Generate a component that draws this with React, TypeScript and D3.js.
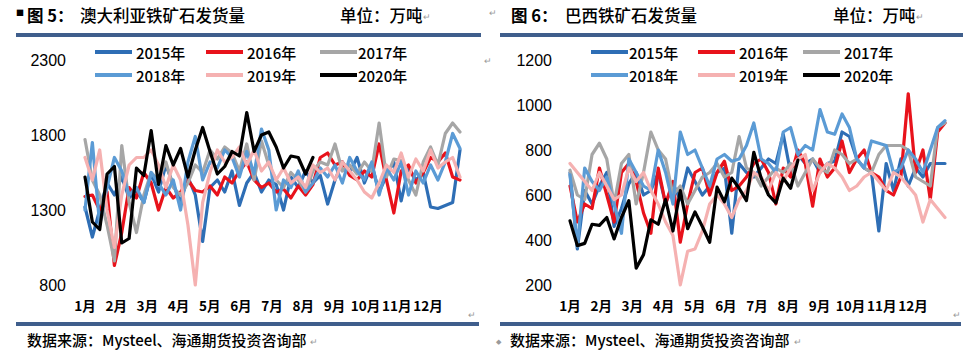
import React from 'react';
import * as d3 from 'd3';

const years = ['2015年', '2016年', '2017年', '2018年', '2019年', '2020年'];
const colors = ['#2E6EB5', '#E8121B', '#A6A6A6', '#5B9BD5', '#F5B1B1', '#000000'];
const monthLabels = ['1月', '2月', '3月', '4月', '5月', '6月', '7月', '8月', '9月', '10月', '11月', '12月'];
const monthWeeks = [0, 4.24, 8.48, 12.72, 16.96, 21.2, 25.44, 29.68, 33.92, 38.16, 42.4, 46.64];

const ausTicks = [800, 1300, 1800, 2300];
const braTicks = [200, 400, 600, 800, 1000, 1200];

// Australia weekly shipments (10k t)
const aus2015 = [1320, 1120, 1300, 1480, 1400, 1520, 1380, 1430, 1350, 1540, 1420, 1600, 1470, 1350, 1520, 1400, 1090, 1450, 1500, 1420, 1560, 1330, 1480, 1550, 1420, 1500, 1470, 1300, 1520, 1450, 1560, 1480, 1530, 1340, 1500, 1620, 1550, 1650, 1480, 1600, 1420, 1530, 1620, 1360, 1580, 1500, 1550, 1320, 1310, 1330, 1350, 1700];
const aus2016 = [1390, 1400, 1300, 1420, 930, 1150, 1450, 1380, 1550, 1480, 1300, 1450, 1380, 1420, 1500, 1430, 1420, 1460, 1400, 1520, 1480, 1560, 1620, 1500, 1450, 1480, 1420, 1440, 1380, 1460, 1400, 1470, 1650, 1680, 1600, 1620, 1530, 1500, 1560, 1520, 1740, 1500, 1280, 1560, 1600, 1480, 1550, 1650, 1620, 1680, 1520, 1500];
const aus2017 = [1770, 1500, 1400, 1200, 960, 1730, 1350, 1150, 1400, 1550, 1500, 1620, 1450, 1400, 1480, 1600, 1550, 1700, 1640, 1720, 1680, 1560, 1740, 1500, 1760, 1600, 1500, 1450, 1550, 1500, 1420, 1560, 1620, 1600, 1740, 1560, 1600, 1540, 1620, 1560, 1880, 1520, 1640, 1630, 1500, 1400, 1620, 1720, 1600, 1810, 1880, 1820];
const aus2018 = [1300, 1750, 1200, 1450, 1650, 1560, 1400, 1450, 1350, 1550, 1480, 1400, 1500, 1300, 1620, 1790, 1500, 1620, 1580, 1700, 1650, 1520, 1690, 1540, 1840, 1700, 1300, 1500, 1450, 1560, 1420, 1480, 1580, 1520, 1600, 1480, 1650, 1560, 1500, 1620, 1400, 1580, 1500, 1620, 1400, 1560, 1480, 1600, 1500, 1620, 1810, 1710];
const aus2019 = [1650, 1500, 1700, 1300, 1050, 1400, 1600, 1650, 1650, 1700, 1600, 1450, 1600, 1500, 1200, 800, 1350, 1550, 1700, 1620, 1650, 1720, 1600, 1700, 1560, 1620, 1500, 1580, 1480, 1520, 1450, 1600, 1550, 1580, 1500, 1620, 1560, 1500, 1420, 1380, 1480, 1600, 1550, 1680, 1520, 1640, 1560, 1700, 1580, 1620, 1650, 1520];
const aus2020 = [1520, 1220, 1170, 1540, 1590, 1080, 1110, 1580, 1530, 1830, 1470, 1730, 1600, 1710, 1520, 1700, 1850, 1690, 1540, 1590, 1690, 1660, 1950, 1690, 1800, 1820, 1720, 1580, 1660, 1650, 1540, 1650];

// Brazil weekly shipments (10k t)
const bra2015 = [700, 360, 620, 560, 640, 700, 460, 540, 650, 700, 600, 620, 700, 560, 650, 580, 720, 660, 600, 640, 700, 720, 430, 740, 700, 680, 720, 760, 740, 870, 700, 780, 740, 760, 700, 740, 750, 880, 860, 760, 720, 700, 440, 740, 620, 760, 640, 720, 680, 740, 740, 740];
const bra2016 = [640, 480, 560, 540, 720, 600, 480, 700, 740, 660, 520, 430, 720, 560, 660, 390, 560, 700, 720, 600, 700, 750, 620, 640, 680, 740, 760, 700, 560, 720, 680, 800, 740, 550, 760, 680, 720, 840, 700, 760, 800, 700, 680, 620, 600, 680, 1050, 700, 800, 580, 880, 920];
const bra2017 = [710, 600, 580, 780, 830, 760, 560, 740, 780, 560, 700, 880, 800, 760, 600, 640, 560, 620, 680, 700, 740, 680, 700, 860, 720, 700, 640, 680, 720, 700, 740, 640, 700, 760, 720, 700, 800, 780, 740, 760, 720, 700, 780, 820, 820, 820, 800, 680, 660, 640, 900, 920];
const bra2018 = [690, 370, 720, 660, 620, 680, 560, 430, 760, 700, 640, 620, 800, 700, 560, 880, 780, 800, 720, 640, 760, 780, 750, 760, 820, 920, 760, 740, 700, 880, 900, 780, 820, 800, 980, 880, 870, 960, 900, 760, 720, 840, 830, 820, 700, 720, 800, 760, 700, 800, 900, 930];
const bra2019 = [740, 700, 660, 620, 700, 640, 580, 600, 720, 660, 700, 620, 560, 480, 420, 200, 350, 360, 440, 560, 600, 560, 500, 580, 620, 700, 680, 620, 700, 660, 720, 760, 780, 620, 700, 740, 720, 680, 620, 640, 680, 700, 660, 620, 700, 680, 640, 600, 480, 580, 540, 500];
const bra2020 = [485, 375, 385, 470, 465, 500, 405, 500, 575, 275, 335, 490, 470, 580, 440, 620, 450, 525, 460, 390, 635, 570, 675, 630, 575, 790, 675, 600, 565, 675, 630, 755];

const ausSeries = [aus2015, aus2016, aus2017, aus2018, aus2019, aus2020];
const braSeries = [bra2015, bra2016, bra2017, bra2018, bra2019, bra2020];

const CJK = '"Noto Sans CJK SC", "Noto Sans", sans-serif';
const LAT = '"Liberation Sans", Arial, sans-serif';
const BAR = '#3F5E8C';
const MARK = '#9a9a9a';

type PanelProps = {
  series: number[][];
  ticks: number[];
  domain: [number, number];
  xRange: [number, number];
  tickX: number;
  legendLineX: number[];
  legendTextX: number[];
};

function Panel({ series, ticks, domain, xRange, tickX, legendLineX, legendTextX }: PanelProps) {
  const x = d3.scaleLinear().domain([0, 51]).range(xRange);
  const y = d3.scaleLinear().domain(domain).range([285, 60]);
  const line = d3.line<number>().x((_, i) => x(i)).y((d) => y(d));
  const legendRows = [52, 75];
  return (
    <g>
      {ticks.map((t) => (
        <text key={t} x={tickX} y={y(t)} textAnchor="end" dominantBaseline="central"
          fontFamily={LAT} fontSize={16} fill="#000">{t}</text>
      ))}
      {monthLabels.map((m, i) => (
        <text key={m} x={x(monthWeeks[i])} y={305} textAnchor="middle" dominantBaseline="central"
          fontFamily={CJK} fontSize={13.5} fontWeight={700} fill="#000">{m}</text>
      ))}
      {series.map((s, i) => (
        <path key={i} d={line(s) || ''} fill="none" stroke={colors[i]} strokeWidth={3.2}
          strokeLinejoin="round" strokeLinecap="round" />
      ))}
      {years.map((yr, i) => {
        const row = Math.floor(i / 3);
        const col = i % 3;
        const ly = legendRows[row];
        return (
          <g key={yr}>
            <line x1={legendLineX[col]} x2={legendLineX[col] + 37} y1={ly} y2={ly}
              stroke={colors[i]} strokeWidth={4} />
            <text x={legendTextX[col]} y={ly} dominantBaseline="central"
              fontFamily={CJK} fontSize={15} fontWeight={500} fill="#000">{yr}</text>
          </g>
        );
      })}
    </g>
  );
}

export default function App() {
  return (
    <div style={{ position: 'fixed', left: 0, top: 0 }}>
      <svg width={966} height={357} style={{ display: 'block', background: '#fff' }}>
        <rect width={966} height={357} fill="#fff" />
        {/* left header */}
        <text x={16} y={16} fontFamily={CJK} fontSize={8} fill="#000">■</text>
        <text x={27} y={22} fontFamily={CJK} fontSize={16.5} fill="#000">
          <tspan fontWeight={700}>图 5：</tspan>
          <tspan x={80} fontWeight={500}>澳大利亚铁矿石发货量</tspan>
        </text>
        <text x={340} y={22} fontFamily={CJK} fontSize={16.5} fontWeight={500} fill="#000">单位：万吨</text>
        <text x={423} y={20} fontFamily={LAT} fontSize={9} fill={MARK}>↵</text>
        <rect x={16} y={33} width={465} height={4} fill={BAR} />

        {/* right header */}
        <text x={489} y={16} fontFamily={LAT} fontSize={9} fill={MARK}>↵</text>
        <text x={511} y={22} fontFamily={CJK} fontSize={16.5} fill="#000">
          <tspan fontWeight={700}>图 6：</tspan>
          <tspan x={565} fontWeight={500}>巴西铁矿石发货量</tspan>
        </text>
        <text x={833} y={22} fontFamily={CJK} fontSize={16.5} fontWeight={500} fill="#000">单位：万吨</text>
        <text x={916} y={20} fontFamily={LAT} fontSize={9} fill={MARK}>↵</text>
        <rect x={500} y={33} width={463} height={4} fill={BAR} />
        <text x={484} y={64} fontFamily={LAT} fontSize={9} fill={MARK}>↵</text>

        <Panel series={ausSeries} ticks={ausTicks} domain={[800, 2300]} xRange={[85, 460]} tickX={66}
          legendLineX={[95, 206, 320]} legendTextX={[136, 247, 358]} />
        <Panel series={braSeries} ticks={braTicks} domain={[200, 1200]} xRange={[570, 945]} tickX={552}
          legendLineX={[591, 698, 803]} legendTextX={[629, 739, 844]} />

        <text x={468} y={318} fontFamily={LAT} fontSize={9} fill={MARK}>↵</text>
        <text x={953} y={318} fontFamily={LAT} fontSize={9} fill={MARK}>↵</text>

        {/* footers */}
        <rect x={16} y={322} width={463} height={4} fill={BAR} />
        <rect x={500} y={322} width={461} height={4} fill={BAR} />
        <text x={27} y={346} fontFamily={CJK} fontSize={15} fontWeight={500} fill="#000">数据来源：Mysteel、海通期货投资咨询部</text>
        <text x={310} y={345} fontFamily={LAT} fontSize={9} fill={MARK}>↵</text>
        <text x={510} y={346} fontFamily={CJK} fontSize={15} fontWeight={500} fill="#000">数据来源：Mysteel、海通期货投资咨询部</text>
        <text x={794} y={345} fontFamily={LAT} fontSize={9} fill={MARK}>↵</text>
        <text x={496} y={344} fontFamily={LAT} fontSize={7} fill={MARK}>◆</text>
      </svg>
    </div>
  );
}
